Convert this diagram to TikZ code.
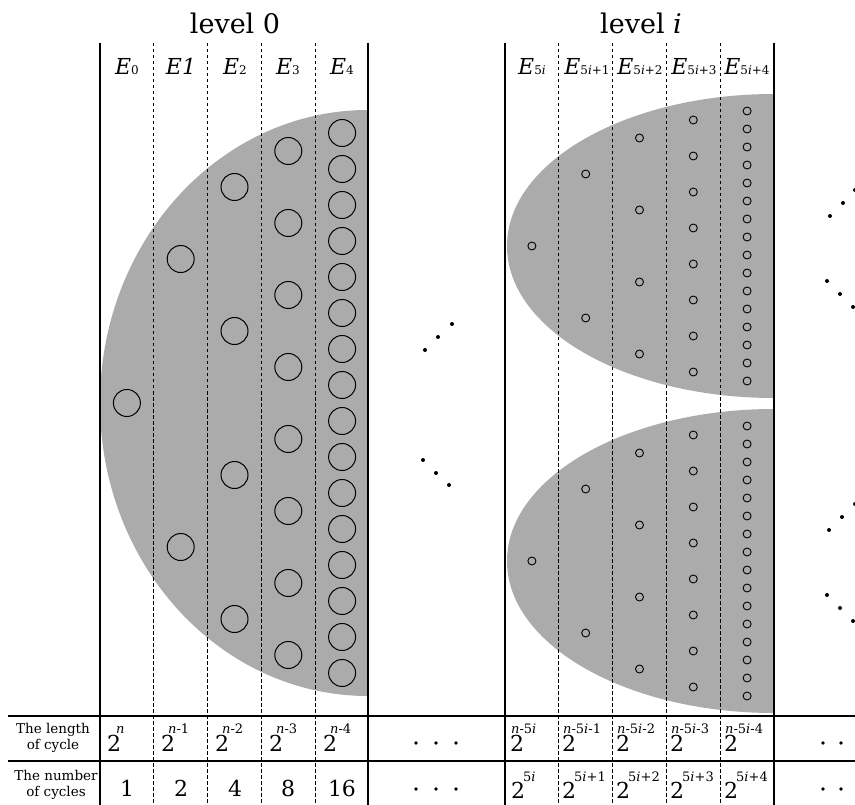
\documentclass[tikz,border=0pt]{standalone}
\usepackage{fontspec}
\setmainfont{DejaVu Serif}
\newcommand{\ix}[1]{{\fontsize{12}{12}\selectfont #1}}
\newcommand{\twop}[3]{\rlap{\hspace*{#1}\raisebox{#2}{\fontsize{13}{13}\selectfont #3}}2}

\begin{document}
\begin{tikzpicture}[x=1pt,y=-1pt,
  wall/.style={line width=2.8pt},
  hline/.style={line width=2pt},
  colsep/.style={line width=1.1pt,dash pattern=on 3.5pt off 2.5pt},
  shade/.style={fill=black!33},
  bigring/.style={draw,line width=1pt},
  smallring/.style={draw,line width=0.9pt},
  hd/.style={font=\fontsize{27}{32}\selectfont,anchor=base,inner sep=0pt},
  el/.style={font=\fontsize{22}{26}\selectfont,anchor=base,inner sep=0pt},
  pw/.style={font=\fontsize{22}{26}\selectfont,anchor=base west,inner sep=0pt},
  num/.style={font=\fontsize{22}{26}\selectfont,anchor=base,inner sep=0pt},
  rowlbl/.style={font=\fontsize{13.5}{16}\selectfont,align=center,inner sep=0pt}]
  \useasboundingbox (0,0) rectangle (855,805);

  % shaded half ellipses
  \begin{scope}
    \clip (100,0) rectangle (368,805);
    \fill[shade] (368,403) ellipse[x radius=268pt,y radius=293pt];
  \end{scope}
  \begin{scope}
    \clip (505,0) rectangle (774,805);
    \fill[shade] (774,246) ellipse[x radius=267pt,y radius=152pt];
    \fill[shade] (774,561) ellipse[x radius=267pt,y radius=152pt];
  \end{scope}

  % dashed column borders
  \foreach \x in {153.8,207.6,261.4,315.2,558.8,612.6,666.4,720.2}
    \draw[colsep] (\x,43) -- (\x,805);

  % cycles, level 0
  \foreach \k in {0,...,4}{
    \pgfmathtruncatemacro{\cnt}{2^\k}
    \foreach \j in {1,...,\cnt}
      \draw[bigring] ({100+53.8*(\k+0.5)},{403+(\j-0.5-\cnt/2)*576/\cnt}) circle[radius=13.5pt];
  }
  % cycles, level i
  \foreach \cy in {246,561}{
    \foreach \k in {0,...,4}{
      \pgfmathtruncatemacro{\cnt}{2^\k}
      \foreach \j in {1,...,\cnt}
        \draw[smallring] ({505+53.8*(\k+0.5)},{\cy+(\j-0.5-\cnt/2)*288/\cnt}) circle[radius=4pt];
    }
  }

  % frame
  \foreach \x in {100,368,505,774}
    \draw[wall] (\x,43) -- (\x,805);
  \draw[hline] (8,716) -- (855,716);
  \draw[hline] (8,761) -- (855,761);

  % headers
  \node[hd] (lvl0) at (235,34) {level 0};
  \node[hd] (lvli) at (641,34) {level \textit{i}};
  \node[el] (e0) at (127,75) {\textit{E}\ix{0}};
  \node[el] (e1) at (181,75) {\textit{E1}};
  \node[el] (e2) at (235,75) {\textit{E}\ix{2}};
  \node[el] (e3) at (288,75) {\textit{E}\ix{3}};
  \node[el] (e4) at (342,75) {\textit{E}\ix{4}};
  \node[el] (f0) at (532,75) {\textit{E}\ix{5\textit{i}}};
  \node[el] (f1) at (587,75) {\textit{E}\ix{5\textit{i}+1}};
  \node[el] (f2) at (640,75) {\textit{E}\ix{5\textit{i}+2}};
  \node[el] (f3) at (694,75) {\textit{E}\ix{5\textit{i}+3}};
  \node[el] (f4) at (747,75) {\textit{E}\ix{5\textit{i}+4}};

  % table
  \node[rowlbl] (lenlbl) at (53,738) {The length\\of cycle};
  \node[rowlbl] (numlbl) at (56,785) {The number\\of cycles};
  \node[pw] (l0) at (107,751) {\twop{9pt}{18pt}{\textit{n}}};
  \node[pw] (l1) at (161,751) {\twop{7pt}{18pt}{\textit{n}-1}};
  \node[pw] (l2) at (215,751) {\twop{7pt}{18pt}{\textit{n}-2}};
  \node[pw] (l3) at (269,751) {\twop{7pt}{18pt}{\textit{n}-3}};
  \node[pw] (l4) at (323,751) {\twop{7pt}{18pt}{\textit{n}-4}};
  \node[num] (c0) at (127,796) {1};
  \node[num] (c1) at (181,796) {2};
  \node[num] (c2) at (235,796) {4};
  \node[num] (c3) at (288,796) {8};
  \node[num] (c4) at (342,796) {16};
  \node[pw] (r0) at (510,751) {\twop{1pt}{18pt}{\textit{n}-5\textit{i}}};
  \node[pw] (r1) at (562,751) {\twop{1pt}{18pt}{\textit{n}-5\textit{i}-1}};
  \node[pw] (r2) at (616,751) {\twop{1pt}{18pt}{\textit{n}-5\textit{i}-2}};
  \node[pw] (r3) at (670,751) {\twop{1pt}{18pt}{\textit{n}-5\textit{i}-3}};
  \node[pw] (r4) at (724,751) {\twop{1pt}{18pt}{\textit{n}-5\textit{i}-4}};
  \node[pw] (s0) at (511,798) {\twop{12pt}{17pt}{5\textit{i}}};
  \node[pw] (s1) at (562,798) {\twop{12pt}{17pt}{5\textit{i}+1}};
  \node[pw] (s2) at (616,798) {\twop{12pt}{17pt}{5\textit{i}+2}};
  \node[pw] (s3) at (670,798) {\twop{12pt}{17pt}{5\textit{i}+3}};
  \node[pw] (s4) at (724,798) {\twop{12pt}{17pt}{5\textit{i}+4}};

  % ellipsis dots
  \foreach \x/\y in {425/350,438/337,452/324,423/460,436/473,449/485,
      830/216,843/203,855/190,827/281,840/294,853/307,
      829/530,842/517,855/504,827/595,840/608,853/621}
    \fill (\x,\y) circle[radius=2pt];
  \foreach \x in {416,436,456,823,841}{
    \fill (\x,743) circle[radius=1.8pt];
    \fill (\x,789) circle[radius=1.8pt];
  }
\end{tikzpicture}
\end{document}
